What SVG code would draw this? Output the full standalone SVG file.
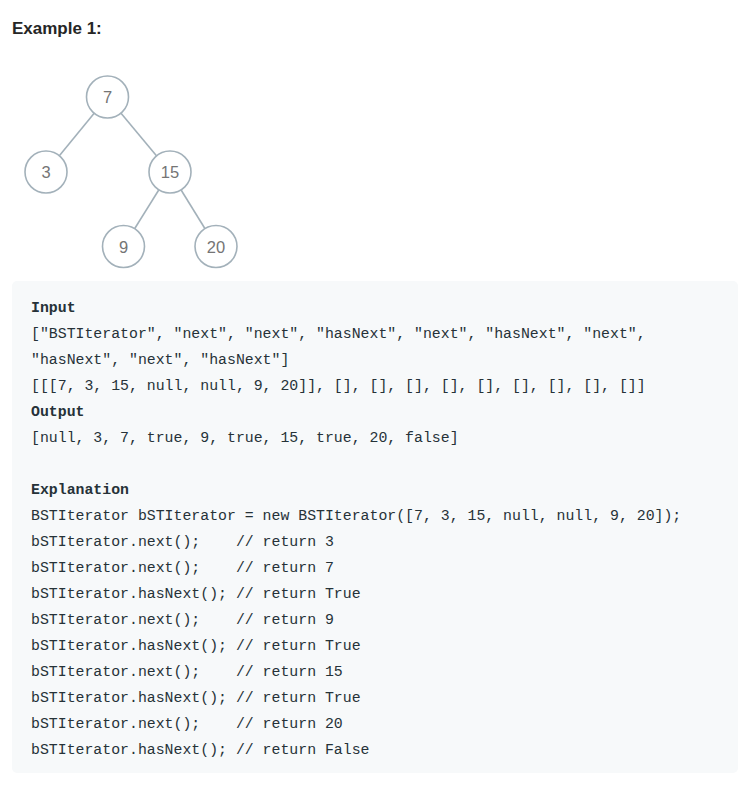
<svg xmlns="http://www.w3.org/2000/svg" width="754" height="809" viewBox="0 0 754 809">
<style>
.title{font-family:"Liberation Sans","Noto Sans",sans-serif;font-weight:bold;font-size:17px;fill:#262626}
.node circle{fill:#fff;stroke:#a3b1ba;stroke-width:1.6}
.node text{font-family:"Liberation Sans","Noto Sans",sans-serif;font-size:16.5px;fill:#757575;text-anchor:middle}
.edges line{stroke:#a3b1ba;stroke-width:1.6}
.code text{font-family:"Liberation Mono","DejaVu Sans Mono",monospace;font-size:14.85px;fill:#263238;white-space:pre}
.code text.b{font-weight:bold}
</style>
<rect width="754" height="809" fill="#fff"/>
<text class="title" x="12" y="34">Example 1:</text>
<g class="edges">
<line x1="107.5" y1="97" x2="46" y2="172"/>
<line x1="107.5" y1="97" x2="170" y2="172"/>
<line x1="170" y1="172" x2="123.5" y2="246.5"/>
<line x1="170" y1="172" x2="216" y2="246.5"/>
</g>
<g id="n7" class="node"><circle cx="107.5" cy="97" r="21"/><text x="107.5" y="103">7</text></g>
<g id="n3" class="node"><circle cx="46" cy="172" r="21"/><text x="46" y="178">3</text></g>
<g id="n15" class="node"><circle cx="170" cy="172" r="21"/><text x="170" y="178">15</text></g>
<g id="n9" class="node"><circle cx="123.5" cy="246.5" r="21"/><text x="123.5" y="252.5">9</text></g>
<g id="n20" class="node"><circle cx="216" cy="246.5" r="21"/><text x="216" y="252.5">20</text></g>
<rect x="12" y="281" width="726" height="492" rx="5" fill="#f7f9fa"/>
<g class="code">
<text class="b" x="31" y="312">Input</text>
<text x="31" y="338">["BSTIterator", "next", "next", "hasNext", "next", "hasNext", "next",</text>
<text x="31" y="364">"hasNext", "next", "hasNext"]</text>
<text x="31" y="390">[[[7, 3, 15, null, null, 9, 20]], [], [], [], [], [], [], [], [], []]</text>
<text class="b" x="31" y="416">Output</text>
<text x="31" y="442">[null, 3, 7, true, 9, true, 15, true, 20, false]</text>
<text class="b" x="31" y="494">Explanation</text>
<text x="31" y="520">BSTIterator bSTIterator = new BSTIterator([7, 3, 15, null, null, 9, 20]);</text>
<text x="31" y="546">bSTIterator.next();&#160;&#160;&#160; // return 3</text>
<text x="31" y="572">bSTIterator.next();&#160;&#160;&#160; // return 7</text>
<text x="31" y="598">bSTIterator.hasNext(); // return True</text>
<text x="31" y="624">bSTIterator.next();&#160;&#160;&#160; // return 9</text>
<text x="31" y="650">bSTIterator.hasNext(); // return True</text>
<text x="31" y="676">bSTIterator.next();&#160;&#160;&#160; // return 15</text>
<text x="31" y="702">bSTIterator.hasNext(); // return True</text>
<text x="31" y="728">bSTIterator.next();&#160;&#160;&#160; // return 20</text>
<text x="31" y="754">bSTIterator.hasNext(); // return False</text>
</g>
</svg>
